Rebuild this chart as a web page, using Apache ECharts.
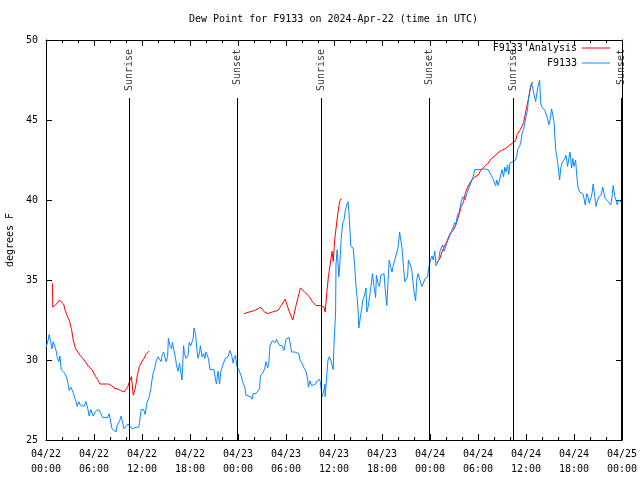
<!DOCTYPE html>
<html>
<head>
<meta charset="utf-8">
<script src="https://cdn.jsdelivr.net/npm/echarts@6/dist/echarts.min.js"></script>
<style>html,body{margin:0;padding:0;background:#fff}#c{width:640px;height:480px}</style>
</head>
<body>
<div id="c"></div>
<script>
// ---- data (hours since 2024-04-22 00:00 UTC, dew point in °F) ----
const xTickLabels = ['04/22\n00:00','04/22\n06:00','04/22\n12:00','04/22\n18:00','04/23\n00:00','04/23\n06:00','04/23\n12:00','04/23\n18:00','04/24\n00:00','04/24\n06:00','04/24\n12:00','04/24\n18:00','04/25\n00:00'];
const yTickValues = [25, 30, 35, 40, 45, 50];
const eventHours = [10.4, 23.9, 34.38, 47.88, 58.37, 71.93];
const eventLabels = ['Sunrise', 'Sunset', 'Sunrise', 'Sunset', 'Sunrise', 'Sunset'];
const seriesNames = ['F9133 Analysis', 'F9133'];

const analysis = [
 [0.8,34.8],[0.85,33.3],[1.33,33.5],[1.67,33.75],[1.9,33.85],[2.2,33.5],[2.4,33.1],[2.7,32.7],[2.9,32.5],[3.2,31.9],[3.4,31.25],[3.7,30.7],[3.9,30.6],[4.25,30.3],[4.6,30.1],[4.9,29.9],[5.3,29.6],[5.75,29.4],[6.2,28.96],[6.5,28.75],[6.75,28.5],[7.8,28.5],[8.2,28.4],[8.5,28.25],[8.9,28.2],[9.3,28.1],[9.75,28.0],[9.9,28.0],[10.2,28.3],[10.4,28.6],[10.67,28.96],[10.75,28.6],[10.9,27.8],[11.1,28.1],[11.25,28.5],[11.4,29.0],[11.67,29.6],[12.0,29.9],[12.25,30.1],[12.5,30.35],[12.9,30.56],
 [13.5,null],
 [24.75,32.9],[25.4,33.0],[26.1,33.1],[26.8,33.3],[27.3,33.0],[27.75,32.9],[28.3,33.0],[29.0,33.1],[29.4,33.4],[29.9,33.8],[30.35,33.1],[30.85,32.5],[31.25,33.4],[31.8,34.5],[32.3,34.27],[32.9,33.96],[33.3,33.65],[33.75,33.4],[34.3,33.4],[34.75,33.3],[34.9,33.0],[35.1,34.2],[35.3,35.2],[35.6,36.25],[35.75,36.8],[35.9,36.15],[36.1,37.6],[36.25,38.2],[36.4,38.85],[36.6,39.6],[36.75,39.96],[36.9,40.1],
 [42.0,null],
 [48.85,36.1],[49.2,36.3],[49.6,36.9],[50.1,37.4],[50.5,37.9],[50.9,38.1],[51.3,38.55],[51.7,39.2],[51.9,39.6],[52.2,39.9],[52.4,40.4],[52.7,40.8],[52.9,40.9],[53.2,41.25],[53.6,41.45],[54.0,41.55],[54.4,41.9],[54.85,42.1],[55.25,42.3],[55.7,42.6],[56.1,42.75],[56.5,42.95],[56.9,43.1],[57.4,43.2],[57.9,43.4],[58.4,43.6],[58.7,43.7],[58.9,44.1],[59.3,44.4],[59.7,44.85],[60.0,45.6],[60.3,46.3],[60.6,47.1],[60.75,47.35],[60.85,47.35]
];

const observed = [
 [0,30.8],[0.25,31.2],[0.4,31.6],[0.58,31.15],[0.75,30.7],[0.9,31.15],[1.08,31.05],[1.25,30.6],[1.4,30.2],[1.6,29.9],[1.75,30.25],[1.9,29.4],[2.08,29.4],[2.3,29.2],[2.5,29.0],[2.6,28.85],[2.8,28.4],[2.9,28.1],[3.1,28.3],[3.3,28.1],[3.5,28.0],[3.75,27.4],[3.9,27.1],[4.1,27.4],[4.25,27.2],[4.5,27.1],[4.75,27.1],[5.0,27.4],[5.25,26.9],[5.4,26.5],[5.6,26.9],[5.9,26.5],[6.05,26.5],[6.2,26.8],[6.6,26.9],[6.8,26.8],[7.1,26.4],[7.4,26.4],[7.7,26.4],[7.9,26.65],[8.25,25.7],[8.5,25.7],[8.75,25.5],[8.9,25.9],[9.2,26.2],[9.4,26.5],[9.6,26.6],[9.75,25.7],[10.0,25.7],[10.25,26.0],[10.5,26.0],[10.75,25.7],[11.0,25.6],[11.25,25.8],[11.6,25.8],[11.75,25.85],[11.9,26.9],[12.2,26.9],[12.4,26.6],[12.6,27.3],[12.9,27.7],[13.1,28.2],[13.25,28.75],[13.4,29.2],[13.6,29.5],[13.75,29.9],[14.0,30.2],[14.25,30.3],[14.4,29.9],[14.5,30.3],[14.7,30.5],[14.85,30.5],[15.0,29.9],[15.2,30.2],[15.3,31.35],[15.5,30.9],[15.7,30.7],[15.8,31.1],[16.0,30.6],[16.2,30.1],[16.3,29.7],[16.5,29.3],[16.7,29.8],[16.8,29.4],[17.0,28.75],[17.2,30.9],[17.3,30.4],[17.5,30.1],[17.75,30.3],[17.9,31.1],[18.1,30.9],[18.25,30.9],[18.4,31.35],[18.5,32.0],[18.7,31.6],[18.85,30.7],[19.0,30.1],[19.2,30.5],[19.3,30.9],[19.5,30.2],[19.7,30.4],[19.85,30.1],[20.0,30.5],[20.2,30.6],[20.3,30.1],[20.5,29.4],[20.75,29.4],[21.0,29.4],[21.2,28.75],[21.3,28.5],[21.5,29.3],[21.7,28.5],[21.85,29.3],[22.1,29.4],[22.4,30.1],[22.6,30.1],[22.75,30.2],[23.0,30.6],[23.2,30.3],[23.4,29.8],[23.5,30.1],[23.7,30.3],[23.85,29.6],[24.1,29.4],[24.4,29.0],[24.6,28.6],[24.85,28.3],[25.0,27.8],[25.25,27.8],[25.6,27.7],[25.75,27.55],[25.9,27.9],[26.25,27.9],[26.5,27.8],[26.7,28.2],[26.8,29.0],[27.1,29.2],[27.3,29.4],[27.5,29.9],[27.7,29.5],[27.85,29.8],[28.0,30.9],[28.15,30.9],[28.3,31.2],[28.5,31.3],[28.7,31.1],[28.8,31.3],[29.0,31.2],[29.2,30.9],[29.3,30.8],[29.5,30.9],[29.75,30.6],[30.0,31.3],[30.25,31.3],[30.4,31.4],[30.6,31.5],[30.7,30.5],[31.1,30.5],[31.35,30.5],[31.6,30.4],[31.75,30.0],[32.0,29.8],[32.25,29.5],[32.5,29.3],[32.7,28.8],[32.8,28.3],[33.0,28.7],[33.2,28.4],[33.4,28.4],[33.7,28.5],[33.9,28.7],[34.2,28.8],[34.3,28.6],[34.5,27.7],[34.7,28.0],[34.85,28.5],[34.9,27.7],[35.1,29.1],[35.25,30.0],[35.4,30.2],[35.6,30.0],[35.75,30.1],[35.9,29.4],[36.0,31.0],[36.2,33.0],[36.25,36.0],[36.4,36.9],[36.6,35.2],[36.75,36.15],[36.9,37.6],[37.1,38.6],[37.25,38.75],[37.4,39.3],[37.6,39.7],[37.75,39.9],[37.9,39.0],[38.1,37.1],[38.25,37.2],[38.4,37.0],[38.6,35.8],[38.75,34.6],[38.9,33.9],[39.0,33.2],[39.1,32.0],[39.3,32.7],[39.5,33.3],[39.6,33.75],[39.8,34.0],[40.0,34.5],[40.1,33.0],[40.3,33.4],[40.5,33.5],[40.7,34.9],[40.8,35.4],[41.0,34.6],[41.2,33.9],[41.3,35.3],[41.5,34.8],[41.7,34.6],[41.85,35.3],[42.0,35.4],[42.25,35.4],[42.4,34.4],[42.6,33.4],[42.75,34.9],[42.9,36.25],[43.1,35.8],[43.25,35.5],[43.4,35.9],[43.6,36.25],[43.8,36.25],[44.0,37.0],[44.2,38.0],[44.35,37.5],[44.5,37.0],[44.7,35.7],[44.85,34.9],[45.0,35.0],[45.2,35.2],[45.3,36.25],[45.5,36.25],[45.7,35.7],[45.85,35.0],[46.0,34.3],[46.2,33.7],[46.35,35.0],[46.5,35.4],[46.7,35.3],[46.85,34.8],[47.0,34.6],[47.2,34.6],[47.4,35.1],[47.5,35.2],[47.7,35.2],[47.85,35.8],[48.1,36.3],[48.25,36.5],[48.4,36.25],[48.6,36.8],[48.75,35.9],[48.9,35.8],[49.1,36.25],[49.25,36.8],[49.4,37.0],[49.6,37.2],[49.75,36.8],[49.9,37.0],[50.1,37.3],[50.25,37.5],[50.5,37.8],[50.7,37.9],[50.9,38.3],[51.1,38.6],[51.25,38.45],[51.4,39.0],[51.6,39.2],[51.75,39.5],[51.9,39.9],[52.1,40.2],[52.25,40.2],[52.4,40.0],[52.6,40.4],[52.75,40.4],[52.9,40.8],[53.1,40.9],[53.25,41.25],[53.4,41.45],[53.6,41.9],[53.75,41.95],[54.0,41.9],[54.25,41.95],[54.4,41.9],[54.7,41.95],[54.9,41.9],[55.25,41.9],[55.5,41.9],[55.7,41.5],[55.85,41.35],[56.0,41.25],[56.2,40.9],[56.35,41.25],[56.5,40.9],[56.7,41.25],[56.85,41.35],[57.0,41.9],[57.2,41.45],[57.35,42.05],[57.5,41.75],[57.7,42.2],[57.85,41.6],[58.0,42.3],[58.2,42.2],[58.35,42.4],[58.5,42.4],[58.7,42.5],[58.85,42.8],[59.0,43.2],[59.2,43.35],[59.35,43.6],[59.5,44.15],[59.7,44.4],[59.85,44.5],[60.0,45.2],[60.2,45.7],[60.3,46.25],[60.5,46.95],[60.7,47.3],[60.85,46.95],[61.0,46.6],[61.2,46.15],[61.35,46.15],[61.5,47.1],[61.7,47.5],[61.85,46.0],[62.0,45.8],[62.2,45.9],[62.35,45.6],[62.5,45.5],[62.7,45.1],[62.85,44.7],[63.0,45.0],[63.2,45.7],[63.35,45.6],[63.5,44.9],[63.7,43.2],[63.85,42.7],[64.0,42.2],[64.2,41.25],[64.35,42.0],[64.5,42.3],[64.7,42.4],[64.85,42.6],[65.0,42.8],[65.2,42.1],[65.35,42.6],[65.5,43.0],[65.7,42.0],[65.85,42.6],[66.0,42.1],[66.2,42.5],[66.35,41.5],[66.5,40.8],[66.7,40.5],[66.9,40.4],[67.1,40.4],[67.25,40.1],[67.4,39.7],[67.6,40.4],[67.75,40.2],[67.9,39.8],[68.1,40.1],[68.25,40.4],[68.4,41.0],[68.6,40.2],[68.75,39.6],[68.9,39.9],[69.1,40.2],[69.25,40.2],[69.4,40.3],[69.6,40.8],[69.75,40.4],[69.9,40.1],[70.1,40.0],[70.25,39.9],[70.4,39.9],[70.6,39.7],[70.75,40.2],[70.9,40.9],[71.1,40.2],[71.25,40.0],[71.4,39.7],[71.6,40.0],[71.75,40.0],[72.0,39.8]
];

// ---- chart ----
const FONT = 'DejaVu Sans Mono';
const txt = { fontFamily: FONT, fontSize: 10, color: '#000' };
const LABEL_TOP = 49.44;   // y value where rotated event labels start
const LINE_TOP = 46.375;   // y value where event lines start

const chart = echarts.init(document.getElementById('c'), null, { renderer: 'canvas' });

const xCommon = {
  type: 'value', min: 0, max: 72, interval: 6,
  axisLine: { onZero: false, lineStyle: { color: '#000', width: 1 } },
  axisTick: { inside: true, length: 6, lineStyle: { color: '#000' } },
  minorTick: { show: true, splitNumber: 3, length: 3, lineStyle: { color: '#000' } },
  splitLine: { show: false }
};
const yCommon = {
  type: 'value', min: yTickValues[0], max: yTickValues[yTickValues.length - 1], interval: 5,
  axisLine: { onZero: false, lineStyle: { color: '#000', width: 1 } },
  axisTick: { inside: true, length: 6, lineStyle: { color: '#000' } },
  splitLine: { show: false }
};

chart.setOption({
  animation: false,
  backgroundColor: '#fff',
  title: {
    text: 'Dew Point for F9133 on 2024-Apr-22 (time in UTC)',
    left: 189, top: 14, padding: 0,
    textStyle: { fontFamily: FONT, fontSize: 10, fontWeight: 'normal', color: '#000' }
  },
  legend: {
    data: seriesNames,
    orient: 'vertical', align: 'right', icon: 'rect',
    right: 30, top: 43, padding: 0,
    itemWidth: 28, itemHeight: 1, itemGap: 5,
    textStyle: txt
  },
  grid: { left: 46, right: 18, top: 40, bottom: 40, containLabel: false, outerBoundsMode: 'none' },
  xAxis: [
    Object.assign({}, xCommon, {
      position: 'bottom',
      axisLabel: Object.assign({}, txt, { margin: 7, lineHeight: 15,
        formatter: v => xTickLabels[Math.round(v / 6)] })
    }),
    Object.assign({}, xCommon, { position: 'top', axisLabel: { show: false } })
  ],
  yAxis: [
    Object.assign({}, yCommon, {
      position: 'left',
      name: 'degrees F', nameLocation: 'middle', nameGap: 30, nameRotate: 90,
      nameTextStyle: txt,
      axisLabel: Object.assign({}, txt, { margin: 8 })
    }),
    Object.assign({}, yCommon, { position: 'right', axisLabel: { show: false } })
  ],
  series: [
    {
      name: seriesNames[0], type: 'line', data: analysis, symbol: 'none',
      connectNulls: false,
      lineStyle: { color: '#ff0000', width: 1 }, itemStyle: { color: '#ff0000' }, z: 3
    },
    {
      name: seriesNames[1], type: 'line', data: observed, symbol: 'none',
      lineStyle: { color: '#0a88ff', width: 1 }, itemStyle: { color: '#0a88ff' }, z: 4
    },
    {
      name: 'events', type: 'scatter', symbolSize: 0, z: 5,
      data: eventHours.map(h => [h, LABEL_TOP]),
      label: {
        show: true, position: [0, 0], rotate: 90, align: 'right', verticalAlign: 'middle',
        fontFamily: FONT, fontSize: 10, color: '#000',
        formatter: p => eventLabels[p.dataIndex]
      },
      markLine: {
        silent: true, symbol: 'none', label: { show: false },
        lineStyle: { color: '#000', width: 1, type: 'solid' },
        data: eventHours.map(h => [{ coord: [h, LINE_TOP] }, { coord: [h, yTickValues[0]] }])
      }
    }
  ]
});
</script>
</body>
</html>
